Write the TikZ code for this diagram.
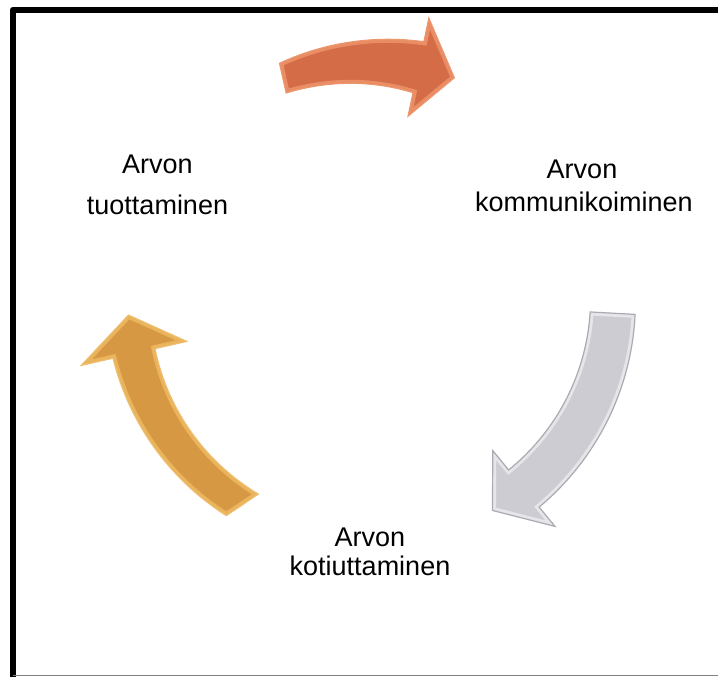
\documentclass[tikz,border=0pt]{standalone}
\usepackage{fontspec}
\setmainfont{Liberation Sans}
\definecolor{orfill}{RGB}{212,108,72}
\definecolor{oredge}{RGB}{240,150,108}
\definecolor{orline}{RGB}{236,150,110}
\definecolor{gyfill}{RGB}{204,204,210}
\definecolor{gyedge}{RGB}{236,236,240}
\definecolor{gyline}{RGB}{170,170,176}
\definecolor{gdfill}{RGB}{214,152,66}
\definecolor{gdedge}{RGB}{240,188,100}
\definecolor{gdline}{RGB}{238,190,110}
% #1 tail outer angle, #2 tail inner angle, #3 head base angle, #4 tip angle,
% #5 mid radius, #6 half width at tail, #7 half width at head, #8 head half width,
% #9 colour prefix
\newcommand\cyclearrow[9]{%
  \begin{scope}
  \clip plot[domain=#1:#3, samples=40, smooth]
      (\x:{#5+#6+((#7)-(#6))*((#1)-(\x))/((#1)-(#3))})
    -- (#3:{#5+#8}) -- (#4:#5) -- (#3:{#5-#8})
    -- plot[domain=#3:#2, samples=40, smooth]
      (\x:{#5-#6-((#7)-(#6))*((#2)-(\x))/((#2)-(#3))})
    -- cycle;
  \fill[#9fill] (-400,-400) rectangle (400,400);
  \draw[#9edge, line width=7pt, line join=miter, opacity=0.8]
      plot[domain=#1:#3, samples=40, smooth]
      (\x:{#5+#6+((#7)-(#6))*((#1)-(\x))/((#1)-(#3))})
    -- (#3:{#5+#8}) -- (#4:#5) -- (#3:{#5-#8})
    -- plot[domain=#3:#2, samples=40, smooth]
      (\x:{#5-#6-((#7)-(#6))*((#2)-(\x))/((#2)-(#3))})
    -- cycle;
  \end{scope}
  \draw[#9line, line width=1.2pt, line join=miter]
      plot[domain=#1:#3, samples=40, smooth]
      (\x:{#5+#6+((#7)-(#6))*((#1)-(\x))/((#1)-(#3))})
    -- (#3:{#5+#8}) -- (#4:#5) -- (#3:{#5-#8})
    -- plot[domain=#3:#2, samples=40, smooth]
      (\x:{#5-#6-((#7)-(#6))*((#2)-(\x))/((#2)-(#3))})
    -- cycle;}
\tikzset{
  lbl/.style={font=\fontsize{27}{32}\selectfont, anchor=base, inner sep=0pt},
}
\begin{document}
\begin{tikzpicture}[x=1pt,y=1pt]
\useasboundingbox (0,0) rectangle (718,677);
\fill[white] (0,0) rectangle (718,677);
% frame
\draw[line width=6pt, line join=round] (12.7,0) -- (12.7,667) -- (718,667);
\draw[gray, line width=1pt] (12.7,1) -- (718,1);
% arrows
\begin{scope}[shift={(369,377)}]
  \cyclearrow{110.7}{111.8}{78}{69}{238}{15}{26}{50}{or}
  \cyclearrow{-3.1}{-3.1}{-50.6}{-59.6}{244}{22.5}{24}{49}{gy}
  \cyclearrow{236.5}{240.3}{192.8}{183.6}{241}{17.5}{21.5}{54}{gd}
\end{scope}
% labels
\node[lbl] (l1a) at (157.5,503) {Arvon};
\node[lbl] (l1b) at (157.5,462) {tuottaminen};
\node[lbl] (l2a) at (582,498) {Arvon};
\node[lbl] (l2b) at (584,465) {kommunikoiminen};
\node[lbl] (l3a) at (370,130) {Arvon};
\node[lbl] (l3b) at (370,101) {kotiuttaminen};
\end{tikzpicture}
\end{document}
